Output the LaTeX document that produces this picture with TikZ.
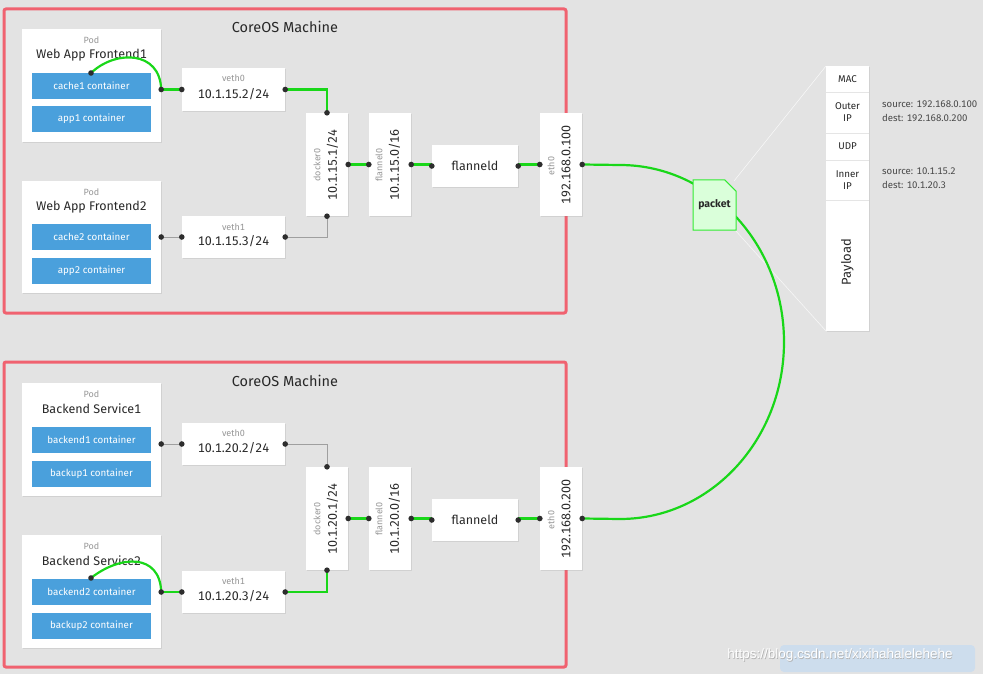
\documentclass[tikz,border=0pt]{standalone}
\usepackage{fontspec}
\setmainfont{Fira Sans}[Numbers=Monospaced]
\newfontfamily\wmfont{Liberation Sans}
\usetikzlibrary{shadows,shapes.misc}
\definecolor{bg}{RGB}{227,227,227}
\definecolor{framec}{RGB}{240,98,112}
\definecolor{cblue}{RGB}{74,160,220}
\definecolor{lgreen}{RGB}{25,215,25}
\definecolor{dotc}{RGB}{45,45,45}
\definecolor{txt}{RGB}{40,40,40}
\definecolor{lbl}{RGB}{150,150,150}
\definecolor{pfill}{RGB}{218,255,218}
\definecolor{pline}{RGB}{50,235,50}
\definecolor{wmblue}{RGB}{200,220,240}
\tikzset{
  machine/.style={draw=framec, line width=3pt, rounded corners=2pt},
  wbox/.style={fill=white, inner sep=0pt, drop shadow={shadow xshift=0.8pt, shadow yshift=-1.2pt, opacity=0.18}},
  podbox/.style={wbox, minimum width=139pt, minimum height=113pt},
  container/.style={fill=cblue, text=white, minimum width=119pt, minimum height=26pt, inner sep=0pt, font=\fontsize{9.8}{10}\selectfont},
  vethbox/.style={wbox, minimum width=103pt, minimum height=43pt},
  rotbox/.style={wbox, minimum width=42pt, minimum height=103pt},
  fdbox/.style={wbox, minimum width=86pt, minimum height=42pt},
  smalllbl/.style={text=lbl, font=\fontsize{9}{9}\selectfont, inner sep=0pt},
  iptext/.style={text=txt, font=\fontsize{12.5}{13}\selectfont, inner sep=0pt},
  titletext/.style={text=txt, font=\fontsize{12.5}{13}\selectfont, inner sep=0pt},
  machinetitle/.style={text=txt, font=\fontsize{14.5}{15}\selectfont, inner sep=0pt},
  gline/.style={draw=lgreen, line width=2.2pt},
  yline/.style={draw=gray!75, line width=0.8pt},
  dotmark/.style={circle, fill=dotc, inner sep=0pt, minimum size=5.6pt},
  celltext/.style={text=txt, font=\fontsize{9.8}{12}\selectfont, align=center, inner sep=0pt},
  infotext/.style={text=txt!85, font=\fontsize{9.6}{14}\selectfont, align=left, anchor=west, inner sep=0pt},
}
\begin{document}
\begin{tikzpicture}[x=1pt,y=-1pt]
\fill[bg] (0,0) rectangle (983,674);
\useasboundingbox (0,0) rectangle (983,674);

% machine frames
\draw[machine] (4,9) rectangle (566,313);
\draw[machine] (4,362) rectangle (566,667);
\node[machinetitle] (mt1) at (285,27) {CoreOS Machine};
\node[machinetitle] (mt2) at (285,381) {CoreOS Machine};

% faint fan lines
\coordinate (fanA) at (734,181);
\coordinate (fanB) at (735,230);
\draw[white, opacity=0.7, line width=0.6pt] (fanA) -- (826,66);
\draw[white, opacity=0.7, line width=0.6pt] (fanB) -- (826,331);

% ===== Top machine =====
\node[podbox] (pod1) at (91.5,85.5) {};
\node[smalllbl] (pod1l) at (91.5,40) {Pod};
\node[titletext] (pod1t) at (91.5,55) {Web App Frontend1};
\node[container] (cache1) at (91.5,86) {cache1 container};
\node[container] (app1) at (91.5,119) {app1 container};

\node[podbox, minimum height=112pt] (pod2) at (91.5,237) {};
\node[smalllbl] (pod2l) at (91.5,192) {Pod};
\node[titletext] (pod2t) at (91.5,207) {Web App Frontend2};
\node[container] (cache2) at (91.5,237) {cache2 container};
\node[container] (app2) at (91.5,271) {app2 container};

\node[vethbox] (veth0a) at (233.5,89.5) {};
\node[smalllbl] at (233.5,78) {veth0};
\node[iptext] at (233.5,94) {10.1.15.2/24};
\node[vethbox, minimum height=42pt] (veth1a) at (233.5,237) {};
\node[smalllbl] at (233.5,227) {veth1};
\node[iptext] at (233.5,241) {10.1.15.3/24};

\node[rotbox] (docker1) at (327,164.5) {};
\node[smalllbl, rotate=90] at (317,165) {docker0};
\node[iptext, rotate=90] at (332.5,165) {10.1.15.1/24};
\node[rotbox] (flannel1) at (390,164.5) {};
\node[smalllbl, rotate=90] at (379,165) {flannel0};
\node[iptext, rotate=90] at (394.5,165) {10.1.15.0/16};
\node[fdbox] (flanneld1) at (475,166) {};
\node[iptext] at (475,166) {flanneld};
\node[rotbox] (eth1) at (561,164.5) {};
\node[smalllbl, rotate=90] at (551,166) {eth0};
\node[iptext, rotate=90] at (566,165) {192.168.0.100};

% ===== Bottom machine =====
\node[podbox] (pod3) at (91.5,439.5) {};
\node[smalllbl] (pod3l) at (91.5,394) {Pod};
\node[titletext] (pod3t) at (91.5,409) {Backend Service1};
\node[container] (backend1) at (91.5,440) {backend1 container};
\node[container] (backup1) at (91.5,474) {backup1 container};

\node[podbox] (pod4) at (91.5,591.5) {};
\node[smalllbl] (pod4l) at (91.5,546) {Pod};
\node[titletext] (pod4t) at (91.5,561) {Backend Service2};
\node[container] (backend2) at (91.5,592) {backend2 container};
\node[container] (backup2) at (91.5,626) {backup2 container};

\node[vethbox, minimum height=42pt] (veth0b) at (233.5,444) {};
\node[smalllbl] at (233.5,433) {veth0};
\node[iptext] at (233.5,448) {10.1.20.2/24};
\node[vethbox, minimum height=42pt] (veth1b) at (233.5,592) {};
\node[smalllbl] at (233.5,581) {veth1};
\node[iptext] at (233.5,596) {10.1.20.3/24};

\node[rotbox] (docker2) at (327,518.5) {};
\node[smalllbl, rotate=90] at (317,519) {docker0};
\node[iptext, rotate=90] at (332.5,519) {10.1.20.1/24};
\node[rotbox] (flannel2) at (390,518.5) {};
\node[smalllbl, rotate=90] at (379,519) {flannel0};
\node[iptext, rotate=90] at (394.5,519) {10.1.20.0/16};
\node[fdbox] (flanneld2) at (475,520) {};
\node[iptext] at (475,520) {flanneld};
\node[rotbox] (eth2) at (561,518.5) {};
\node[smalllbl, rotate=90] at (551,520) {eth0};
\node[iptext, rotate=90] at (566,519) {192.168.0.200};

% ===== connectors top =====
\coordinate (p1e) at (pod1.east |- veth0a.west);
\coordinate (c1d) at (91,73);
\draw[gline] (c1d) .. controls (115,50) and (160,50) .. (p1e);
\draw[gline] (p1e) -- (veth0a.west);
\draw[gline] (veth0a.east) -| (docker1.north);
\coordinate (p2e) at (pod2.east |- veth1a.west);
\draw[yline] (p2e) -- (veth1a.west);
\draw[yline] (veth1a.east) -| (docker1.south);
\draw[gline] (docker1.east) -- (flannel1.west);
\draw[gline] (flannel1.east) -- (flanneld1.west |- flannel1.east);
\draw[gline] (flanneld1.east |- eth1.west) -- (eth1.west);

% ===== connectors bottom =====
\coordinate (p3e) at (pod3.east |- veth0b.west);
\draw[yline] (p3e) -- (veth0b.west);
\draw[yline] (veth0b.east) -| (docker2.north);
\coordinate (p4e) at (pod4.east |- veth1b.west);
\coordinate (c4d) at (91,578);
\draw[gline] (c4d) .. controls (120,555) and (160,553) .. (p4e);
\draw[gline] (p4e) -- (veth1b.west);
\draw[gline] (veth1b.east) -| (docker2.south);
\draw[gline] (docker2.east) -- (flannel2.west);
\draw[gline] (flannel2.east) -- (flanneld2.west |- flannel2.east);
\draw[gline] (flanneld2.east |- eth2.west) -- (eth2.west);

% ===== big link between machines =====
\coordinate (arcA) at (620,165);
\coordinate (arcB) at (620,519);
\draw[gline] (eth1.east) -- (arcA) arc[start angle=90, end angle=-90, x radius=164pt, y radius=177pt] -- (eth2.east);

% packet
\node[chamfered rectangle, chamfered rectangle corners=north east, chamfered rectangle xsep=6pt, chamfered rectangle ysep=6pt,
      draw=pline, fill=pfill, line width=1pt, minimum width=43pt, minimum height=50pt, inner sep=0pt,
      font=\bfseries\fontsize{10.5}{11}\selectfont, text=txt] (packet) at (714.5,205) {packet};

% packet structure
\node[wbox, minimum width=43pt, minimum height=265pt] (frame) at (847.5,198.5) {};
\foreach \yy in {92,133,160,200} \draw[gray!20, line width=0.6pt] (826,\yy) -- (869,\yy);
\node[celltext] (mac) at (847.5,79) {MAC};
\node[celltext] (outer) at (847.5,112.5) {Outer\\IP};
\node[celltext] (udp) at (847.5,146.5) {UDP};
\node[celltext] (inner) at (847.5,180) {Inner\\IP};
\node[celltext, rotate=90, font=\fontsize{13}{13}\selectfont] (payload) at (847.5,262) {Payload};
\node[infotext] (outerinfo) at (882,111) {source: 192.168.0.100\\dest: 192.168.0.200};
\node[infotext] (innerinfo) at (882,178) {source: 10.1.15.2\\dest: 10.1.20.3};

% dots
\foreach \c in {c1d,p1e,veth0a.west,veth0a.east,docker1.north,p2e,veth1a.west,veth1a.east,docker1.south,
  docker1.east,flannel1.west,flannel1.east,flanneld1.west,flanneld1.east,eth1.west,eth1.east,
  p3e,veth0b.west,veth0b.east,docker2.north,c4d,p4e,veth1b.west,veth1b.east,docker2.south,
  docker2.east,flannel2.west,flannel2.east,flanneld2.west,flanneld2.east,eth2.west,eth2.east}
  \node[dotmark] at (\c) {};

% watermark
\fill[wmblue, opacity=0.8, rounded corners=4pt] (780,645) rectangle (975,672);
\node[text=gray!60, font=\wmfont\fontsize{13.5}{14}\selectfont, inner sep=0pt] at (840.6,655.6) {https://blog.csdn.net/xixihahalelehehe};
\node[text=white, font=\wmfont\fontsize{13.5}{14}\selectfont, inner sep=0pt] (wm) at (840,655) {https://blog.csdn.net/xixihahalelehehe};
\end{tikzpicture}
\end{document}
